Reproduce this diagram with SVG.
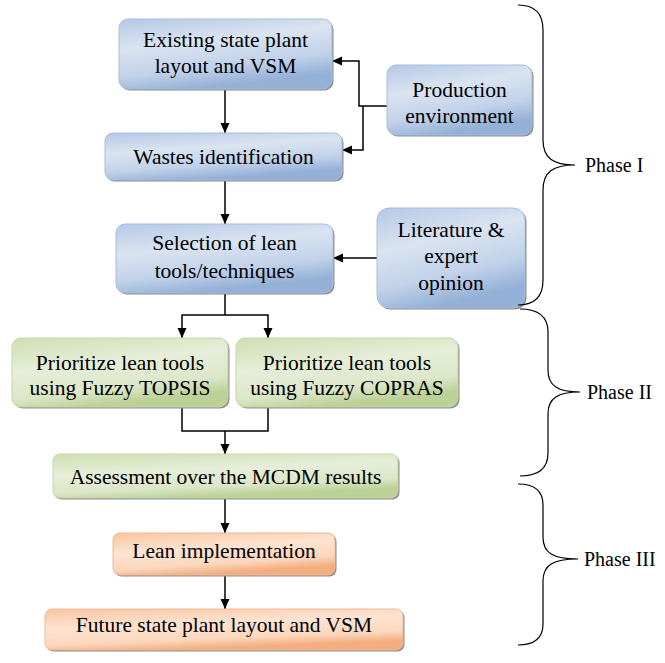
<svg xmlns="http://www.w3.org/2000/svg" width="665" height="663" viewBox="0 0 665 663" font-family="'Liberation Serif', 'DejaVu Serif', serif">
<defs>
<linearGradient id="gBlue" x1="0" y1="0" x2="0.35" y2="1">
<stop offset="0" stop-color="#b4c8e5"/>
<stop offset="0.4" stop-color="#dae4f1"/>
<stop offset="0.75" stop-color="#c0d1e9"/>
<stop offset="1" stop-color="#94b0d6"/>
</linearGradient>
<linearGradient id="gGreen" x1="0" y1="0" x2="0.35" y2="1">
<stop offset="0" stop-color="#cfdfb3"/>
<stop offset="0.45" stop-color="#e6eed9"/>
<stop offset="0.8" stop-color="#dbe7c8"/>
<stop offset="1" stop-color="#bcd197"/>
</linearGradient>
<linearGradient id="gOrange" x1="0" y1="0" x2="0.35" y2="1">
<stop offset="0" stop-color="#f8c6a0"/>
<stop offset="0.45" stop-color="#fde4d2"/>
<stop offset="0.8" stop-color="#fbd6bc"/>
<stop offset="1" stop-color="#f3ad7e"/>
</linearGradient>
<marker id="arr" markerUnits="userSpaceOnUse" markerWidth="10" markerHeight="10" viewBox="0 0 10 10" refX="10" refY="5" orient="auto">
<path d="M0,0.5 L10,5 L0,9.5 z" fill="#000"/>
</marker>
</defs>
<style>
.sh{fill:#8c8c8c;}
.b{fill:url(#gBlue);stroke:#a9bedd;stroke-width:1;}
.g{fill:url(#gGreen);stroke:#c5d7a6;stroke-width:1;}
.o{fill:url(#gOrange);stroke:#f1b896;stroke-width:1;}
text{font-family:'Liberation Serif','DejaVu Serif',serif;font-size:21.5px;fill:#000;text-anchor:middle;}
.ph{font-size:20px;text-anchor:start;}
.c{fill:none;stroke:#000;stroke-width:1.5;}
.br{fill:none;stroke:#000;stroke-width:1.2;}
</style>

<g id="connectors">
<path class="c" d="M225,89 V133" marker-end="url(#arr)"/>
<path class="c" d="M387,106 H359 V61 H332" marker-end="url(#arr)"/>
<path class="c" d="M363,106 V150 H342" marker-end="url(#arr)"/>
<path class="c" d="M225,180 V224" marker-end="url(#arr)"/>
<path class="c" d="M377,258 H333" marker-end="url(#arr)"/>
<path class="c" d="M225,293 V315 H182 V338" marker-end="url(#arr)"/>
<path class="c" d="M225,315 H268 V338" marker-end="url(#arr)"/>
<path class="c" d="M182,407 V431 H268 V407"/>
<path class="c" d="M225,431 V454" marker-end="url(#arr)"/>
<path class="c" d="M225,498 V533" marker-end="url(#arr)"/>
<path class="c" d="M225,575 V609" marker-end="url(#arr)"/>
</g>

<g id="n1">
<rect class="sh" x="120.5" y="20.5" width="213" height="70" rx="9"/>
<rect class="b" x="119" y="19" width="213" height="70" rx="9"/>
<text x="225.5" y="47">Existing state plant</text>
<text x="225.5" y="73">layout and VSM</text>
</g>
<g id="n2">
<rect class="sh" x="106.5" y="134.5" width="237" height="47" rx="8"/>
<rect class="b" x="105" y="133" width="237" height="47" rx="8"/>
<text x="223.5" y="164">Wastes identification</text>
</g>
<g id="n3">
<rect class="sh" x="388.5" y="66.5" width="145" height="70" rx="9"/>
<rect class="b" x="387" y="65" width="145" height="70" rx="9"/>
<text x="459.5" y="97">Production</text>
<text x="459.5" y="123">environment</text>
</g>
<g id="n4">
<rect class="sh" x="117.5" y="225.5" width="217" height="69" rx="9"/>
<rect class="b" x="116" y="224" width="217" height="69" rx="9"/>
<text x="224.5" y="250">Selection of lean</text>
<text x="224.5" y="278">tools/techniques</text>
</g>
<g id="n5">
<rect class="sh" x="378.5" y="209.5" width="148" height="100" rx="12"/>
<rect class="b" x="377" y="208" width="148" height="100" rx="12"/>
<text x="451" y="237">Literature &amp;</text>
<text x="451" y="263">expert</text>
<text x="451" y="290">opinion</text>
</g>
<g id="n6">
<rect class="sh" x="13.5" y="339.5" width="216" height="69" rx="9"/>
<rect class="g" x="12" y="338" width="216" height="69" rx="9"/>
<text x="120" y="370">Prioritize lean tools</text>
<text x="120" y="395">using Fuzzy TOPSIS</text>
</g>
<g id="n7">
<rect class="sh" x="237.5" y="339.5" width="222" height="69" rx="9"/>
<rect class="g" x="236" y="338" width="222" height="69" rx="9"/>
<text x="347" y="370">Prioritize lean tools</text>
<text x="347" y="395">using Fuzzy COPRAS</text>
</g>
<g id="n8">
<rect class="sh" x="54.5" y="455.5" width="345" height="44" rx="7"/>
<rect class="g" x="53" y="454" width="345" height="44" rx="7"/>
<text x="225.5" y="484">Assessment over the MCDM results</text>
</g>
<g id="n9">
<rect class="sh" x="114.5" y="534.5" width="222" height="42" rx="7"/>
<rect class="o" x="113" y="533" width="222" height="42" rx="7"/>
<text x="224" y="558">Lean implementation</text>
</g>
<g id="n10">
<rect class="sh" x="46.5" y="610.5" width="358" height="41" rx="7"/>
<rect class="o" x="45" y="609" width="358" height="41" rx="7"/>
<text x="224" y="632">Future state plant layout and VSM</text>
</g>

<g id="phases">
<path class="br" d="M518,5 C534,5 543,12 543,30 V140 C543,158 553,165 575,165 C553,165 543,172 543,190 V280 C543,298 534,305 518,305"/>
<text class="ph" x="585" y="172">Phase I</text>
<path class="br" d="M520,309 C537,309 548,315 548,332 V370 C548,386 558,392 580,392 C558,392 548,398 548,414 V453 C548,470 537,476 520,476"/>
<text class="ph" x="587" y="399">Phase II</text>
<path class="br" d="M518,484 C534,484 543,490 543,505 V537 C543,553 553,559 578,559 C553,559 543,565 543,581 V624 C543,639 534,645 518,645"/>
<text class="ph" x="584" y="566">Phase III</text>
</g>
</svg>
